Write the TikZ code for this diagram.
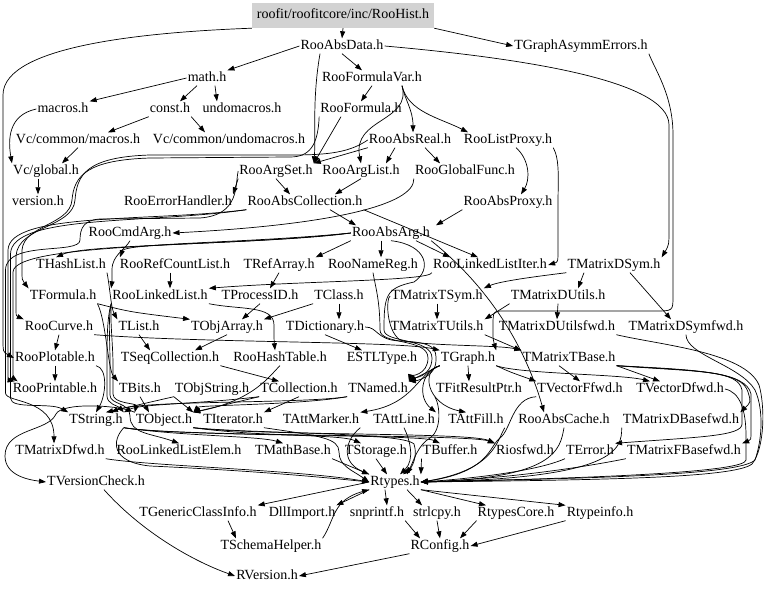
\documentclass[tikz,border=0pt]{standalone}
\usepackage{fontspec}
\setmainfont{Liberation Serif}
\usetikzlibrary{arrows.meta}
\begin{document}
\begin{tikzpicture}[x=1pt,y=-1pt,
  n/.style={inner sep=1pt, text height=10pt, text depth=3pt, font=\fontsize{14}{16}\selectfont},
  rootbox/.style={n, fill=gray!35, minimum width=182pt, minimum height=25pt},
  e/.style={line width=0.7pt, -{Triangle[length=7pt,width=5pt]}}]
\path[use as bounding box] (0,0) rectangle (768,593);
% ---- nodes ----
\node[rootbox] (hist) at (343,15.5) {roofit/roofitcore/inc/RooHist.h};
\node[n] (data) at (342,46) {RooAbsData.h};
\node[n] (tgae) at (581,46) {TGraphAsymmErrors.h};
\node[n] (math) at (207,78) {math.h};
\node[n] (fvar) at (372,78) {RooFormulaVar.h};
\node[n] (macros) at (63,109) {macros.h};
\node[n] (const) at (170,109) {const.h};
\node[n] (undom) at (242,109) {undomacros.h};
\node[n] (formula) at (361,109) {RooFormula.h};
\node[n] (vcmac) at (78,140) {Vc/common/macros.h};
\node[n] (vcundo) at (229,140) {Vc/common/undomacros.h};
\node[n] (absreal) at (410,140) {RooAbsReal.h};
\node[n] (listproxy) at (508,140) {RooListProxy.h};
\node[n] (vcglob) at (46,171) {Vc/global.h};
\node[n] (argset) at (276,171) {RooArgSet.h};
\node[n] (arglist) at (361,171) {RooArgList.h};
\node[n] (globfunc) at (465,171) {RooGlobalFunc.h};
\node[n] (version) at (38,202) {version.h};
\node[n] (errh) at (178,202) {RooErrorHandler.h};
\node[n] (abscoll) at (305,202) {RooAbsCollection.h};
\node[n] (absproxy) at (508,202) {RooAbsProxy.h};
\node[n] (cmdarg) at (130,233) {RooCmdArg.h};
\node[n] (absarg) at (391,233) {RooAbsArg.h};
\node[n] (hashlist) at (71,265) {THashList.h};
\node[n] (refcount) at (175,265) {RooRefCountList.h};
\node[n] (refarray) at (279,265) {TRefArray.h};
\node[n] (namereg) at (373,265) {RooNameReg.h};
\node[n] (llistiter) at (490,265) {RooLinkedListIter.h};
\node[n] (mdsym) at (614,265) {TMatrixDSym.h};
\node[n] (tformula) at (63,296) {TFormula.h};
\node[n] (llist) at (160,296) {RooLinkedList.h};
\node[n] (procid) at (260,296) {TProcessID.h};
\node[n] (tclass) at (339,296) {TClass.h};
\node[n] (mtsym) at (437,296) {TMatrixTSym.h};
\node[n] (mdutils) at (558,296) {TMatrixDUtils.h};
\node[n] (roocurve) at (59,327) {RooCurve.h};
\node[n] (tlist) at (139,327) {TList.h};
\node[n] (objarray) at (227,327) {TObjArray.h};
\node[n] (dict) at (325,327) {TDictionary.h};
\node[n] (mtutils) at (437,327) {TMatrixTUtils.h};
\node[n] (mdutilsfwd) at (557,327) {TMatrixDUtilsfwd.h};
\node[n] (mdsymfwd) at (686,327) {TMatrixDSymfwd.h};
\node[n] (plotable) at (55,358) {RooPlotable.h};
\node[n] (seqcoll) at (170,358) {TSeqCollection.h};
\node[n] (hashtable) at (280,358) {RooHashTable.h};
\node[n] (estl) at (382,358) {ESTLType.h};
\node[n] (tgraph) at (468,358) {TGraph.h};
\node[n] (mtbase) at (569,358) {TMatrixTBase.h};
\node[n] (printable) at (55,389) {RooPrintable.h};
\node[n] (tbits) at (140,389) {TBits.h};
\node[n] (objstring) at (212,389) {TObjString.h};
\node[n] (tcoll) at (299,389) {TCollection.h};
\node[n] (tnamed) at (378,389) {TNamed.h};
\node[n] (fitres) at (479,389) {TFitResultPtr.h};
\node[n] (vecf) at (580,389) {TVectorFfwd.h};
\node[n] (vecd) at (680,389) {TVectorDfwd.h};
\node[n] (tstring) at (96,420) {TString.h};
\node[n] (tobject) at (164,420) {TObject.h};
\node[n] (titer) at (233,420) {TIterator.h};
\node[n] (attmarker) at (321,420) {TAttMarker.h};
\node[n] (attline) at (404,420) {TAttLine.h};
\node[n] (attfill) at (476,420) {TAttFill.h};
\node[n] (abscache) at (564,420) {RooAbsCache.h};
\node[n] (mdbasefwd) at (681,420) {TMatrixDBasefwd.h};
\node[n] (mdfwd) at (60,451) {TMatrixDfwd.h};
\node[n] (llelem) at (179,451) {RooLinkedListElem.h};
\node[n] (mathbase) at (293,451) {TMathBase.h};
\node[n] (storage) at (376,451) {TStorage.h};
\node[n] (buffer) at (450,451) {TBuffer.h};
\node[n] (riosfwd) at (525,451) {Riosfwd.h};
\node[n] (terror) at (590,451) {TError.h};
\node[n] (mfbasefwd) at (684,451) {TMatrixFBasefwd.h};
\node[n] (vcheck) at (96,482) {TVersionCheck.h};
\node[n] (rtypes) at (395,482) {Rtypes.h};
\node[n] (gci) at (198,513) {TGenericClassInfo.h};
\node[n] (dll) at (302,513) {DllImport.h};
\node[n] (snprintf) at (377,513) {snprintf.h};
\node[n] (strlcpy) at (437,513) {strlcpy.h};
\node[n] (rtcore) at (516,513) {RtypesCore.h};
\node[n] (rtinfo) at (600,513) {Rtypeinfo.h};
\node[n] (schema) at (271,546) {TSchemaHelper.h};
\node[n] (rconfig) at (440,546) {RConfig.h};
\node[n] (rversion) at (267,576) {RVersion.h};
% ---- top ----
\draw[e] (hist.south) -- (data.north);
\draw[e] (hist.south east) -- (tgae.west);
\draw[e] (hist.south west) .. controls (150,32) and (3,45) .. (3,95) -- (3,338) .. controls (3,352) .. (plotable.west);
\draw[e] (data.west) -- (math.north east);
\draw[e] (data.south) -- ([xshift=-10]fvar.north);
\draw[e] ([xshift=-22]data.south) .. controls (312,100) and (316,135) .. (argset.north east);
\draw[e] (data.east) .. controls (520,58) and (669,80) .. (669,125) -- (669,228) .. controls (669,245) .. (mdsym.north east);
\draw[e] (tgae.south east) .. controls (655,70) and (673,95) .. (673,135) -- (673,296) .. controls (673,311) .. (655,311) -- (505,311) .. controls (493,311) .. (493,326) .. controls (493,340) .. (tgraph.north east);
\draw[e] (math.west) -- (macros.north east);
\draw[e] ([xshift=-10]math.south) -- ([xshift=10]const.north);
\draw[e] ([xshift=8]math.south) -- ([xshift=-25]undom.north);
\draw[e] (macros.west) .. controls (8,115) and (8,140) .. (vcglob.north west);
\draw[e] (const.south west) -- ([xshift=30]vcmac.north);
\draw[e] (const.south east) -- ([xshift=-24]vcundo.north);
\draw[e] (vcmac.south) -- ([xshift=16]vcglob.north);
\draw[e] ([xshift=-8]vcglob.south) -- (version.north);
% ---- RooFit upper ----
\draw[e] (fvar.south) -- (formula.north);
\draw[e] ([xshift=30]fvar.south) .. controls (405,100) and (413,110) .. ([xshift=3]absreal.north);
\draw[e] ([xshift=30]fvar.south) .. controls (408,112) and (440,118) .. ([xshift=-40]listproxy.north);
\draw[e] ([xshift=30]fvar.south) .. controls (412,122) and (352,118) .. (arglist.north);
\draw[e] ([xshift=-20]formula.south) -- (argset.north east);
\draw[e] (absreal.south west) -- (argset.north east);
\draw[e] ([xshift=-15]absreal.south) -- ([xshift=25]arglist.north);
\draw[e] ([xshift=15]absreal.south) -- ([xshift=-25]globfunc.north);
\draw[e] ([xshift=8]listproxy.south) .. controls (530,160) and (530,180) .. ([xshift=13]absproxy.north);
\draw[e] (listproxy.south east) .. controls (560,160) and (558,180) .. (558,205) -- (558,248) .. controls (558,262) .. (llistiter.east);
\draw[e] (arglist.south) -- ([xshift=30]abscoll.north);
\draw[e] (argset.south) -- ([xshift=-15]abscoll.north);
\draw[e] (argset.south west) -- (errh.north east);
\draw[e] (globfunc.south west) .. controls (415,205) and (330,225) .. (cmdarg.east);
\draw[e] ([xshift=25]abscoll.south) -- ([xshift=-35]absarg.north);
\draw[e] (absproxy.south west) -- ([xshift=45]absarg.north);
\draw[e] (abscoll.south east) -- ([xshift=-12]llistiter.north);
\draw[e] (absarg.south west) -- (refarray.north east);
\draw[e] ([xshift=-10]absarg.south) -- ([xshift=8]namereg.north);
\draw[e] ([xshift=25]absarg.south) -- ([xshift=-40]llistiter.north);
\draw[e] (absarg.south east) .. controls (505,300) and (532,370) .. ([xshift=-20]abscache.north);
\draw[e] (absarg.west) .. controls (250,243) and (125,243) .. ([xshift=-55]refcount.north);
\draw[e] (absarg.west) .. controls (250,245) and (85,244) .. ([xshift=-15]hashlist.north);
\draw[e] (llistiter.south west) .. controls (430,281) and (300,281) .. (llist.north east);
\draw[e] (refarray.south) -- ([xshift=10]procid.north);
\draw[e] ([xshift=-5]refcount.south) -- ([xshift=10]llist.north);
\draw[e] (cmdarg.south) .. controls (125,250) and (112,255) .. (112,270) .. controls (112,282) .. (llist.north west);
\draw[e] (hashlist.south east) .. controls (110,288) and (111,308) .. (tlist.north west);
\draw[e] (tlist.south) -- ([xshift=-20]seqcoll.north);
\draw[e] (objarray.south) -- ([xshift=25]seqcoll.north);
\draw[e] (procid.south) -- ([xshift=15]objarray.north);
\draw[e] (tclass.south) -- ([xshift=14]dict.north);
\draw[e] (tclass.south west) -- (objarray.north east);
\draw[e] (dict.south) -- ([xshift=-20]estl.north);
\draw[e] (tformula.south east) .. controls (106,320) and (108,370) .. (tbits.north west);
\draw[e] (tformula.south east) .. controls (130,312) .. (objarray.north west);
% ---- bundle into TNamed ----
\draw[e] (namereg.south) .. controls (375,285) and (380,300) .. (380,330) .. controls (380,345) and (428,338) .. (428,358) .. controls (428,375) and (410,377) .. (tnamed.north east);
\draw[e] (absarg.south) .. controls (428,245) and (432,270) .. (414,282) .. controls (386,288) and (384,295) .. (384,330) .. controls (384,343) and (432,338) .. (432,358) .. controls (432,377) and (412,379) .. (tnamed.north east);
\draw[e] (dict.east) .. controls (378,327) and (376,340) .. (400,341) .. controls (436,342) and (436,350) .. (436,360) .. controls (436,378) and (414,381) .. (tnamed.north east);
% ---- TObject / TString level ----
\draw[e] (llist.south west) .. controls (108,320) and (110,340) .. (110,362) -- (110,395) .. controls (110,405) and (130,402) .. (130,416) .. controls (130,434) and (150,433) .. (llelem.north);
\draw[e] (llist.south west) .. controls (110,322) and (113,345) .. (113,365) -- (113,394) .. controls (113,404) and (137,403) .. (tobject.north west);
\draw[e] (llist.south west) .. controls (107,318) and (107,340) .. (107,362) -- (107,396) .. controls (107,404) and (118,406) .. (tstring.north east);
\draw[e] (llist.south east) .. controls (240,310) and (274,305) .. (274,325) .. controls (274,340) .. ([xshift=-5]hashtable.north);
\draw[e] (hashtable.south) .. controls (270,375) and (255,400) .. (tobject.north east);
\draw[e] (objstring.south west) -- (tobject.north east);
\draw[e] (objstring.south west) -- ([xshift=10]tstring.north);
\draw[e] (tbits.south) -- ([xshift=-15]tobject.north);
\draw[e] (tcoll.south west) -- (tobject.north east);
\draw[e] (tcoll.south) -- (titer.north east);
\draw[e] (tcoll.south west) .. controls (200,404) and (140,404) .. (tstring.north east);
\draw[e] (seqcoll.south east) -- ([xshift=-20]tcoll.north);
\draw[e] (tnamed.south west) .. controls (300,405) and (200,405) .. (tobject.north east);
\draw[e] (tnamed.south west) .. controls (300,404) and (140,400) .. ([xshift=15]tstring.north);
\draw[e] (plotable.south east) .. controls (108,368) and (106,395) .. (tstring.north);
% ---- left bundle ----
\draw[e] (abscoll.south west) .. controls (150,222) and (9,212) .. (8,250) -- (8,372) .. controls (8,380) .. ([xshift=3]printable.north west);
\draw[e] (abscoll.south west) .. controls (150,224) and (11,214) .. (10.5,254) -- (10.5,398) .. controls (10.5,410) and (50,402) .. (tstring.north west);
\draw[e] (formula.south west) .. controls (318,145) and (310,157) .. (290,157) -- (150,158) .. controls (88,160) and (74,175) .. (72,200) .. controls (70,225) and (24,225) .. (22,250) -- (22,270) .. controls (22,280) .. (tformula.north west);
\draw[e] (absreal.west) .. controls (350,152) and (330,155) .. (292,155) -- (150,155) .. controls (86,157) and (77,175) .. (75,200) .. controls (73,228) and (18,226) .. (16,256) -- (16,306) .. controls (16,316) .. (roocurve.north west);
\draw[e] (argset.west) .. controls (235,185) and (240,215) .. (200,218) -- (100,219) .. controls (84,220) and (80,228) .. (80,240) .. controls (80,255) and (6,240) .. (5.5,270) -- (5.5,393) .. controls (5.5,403) and (54,398) .. ([xshift=-6]mdfwd.north);
\draw[e] (absarg.west) .. controls (250,247) and (14,241) .. (13,272) -- (13,372) .. controls (13,378) .. ([xshift=6]printable.north west);
\draw[e] (tobject.north west) .. controls (120,405) and (62,402) .. (56,414) .. controls (48,432) and (5,428) .. (5,456) .. controls (5,476) and (30,480) .. (vcheck.west);
\draw[e] ([xshift=8]vcheck.south) .. controls (140,530) and (190,560) .. (rversion.west);
% ---- into Rtypes ----
\draw[e] (mdfwd.south east) .. controls (150,466) and (300,470) .. (rtypes.west);
\draw[e] (tstring.south east) .. controls (112,440) and (110,462) .. (150,466) .. controls (260,471) and (330,478) .. (rtypes.west);
\draw[e] (tobject.south east) .. controls (260,434) and (402,432) .. (414,444) .. controls (418,456) and (412,468) .. ([xshift=8]rtypes.north);
\draw[e] (tobject.south east) .. controls (260,437) and (340,434) .. ([xshift=-15]storage.north);
\draw[e] (tobject.south east) .. controls (260,436) and (470,432) .. (riosfwd.north west);
\draw[e] (tstring.south east) .. controls (180,436) and (260,436) .. ([xshift=-10]mathbase.north);
\draw[e] (tstring.south east) .. controls (180,437) and (470,434) .. (riosfwd.north west);
\draw[e] (tstring.south east) .. controls (180,437) and (420,434) .. ([xshift=-10]buffer.north);
\draw[e] (titer.south east) .. controls (320,436) and (339,438) .. (339,452) .. controls (339,466) and (352,470) .. (rtypes.west);
\draw[e] (mathbase.south east) -- (rtypes.north west);
\draw[e] (storage.south) -- ([xshift=-8]rtypes.north);
\draw[e] (buffer.south west) -- (rtypes.north east);
\draw[e] (attfill.south east) .. controls (497,440) and (495,470) .. (rtypes.east);
\draw[e] (attline.south) .. controls (410,440) and (415,460) .. ([xshift=5]rtypes.north);
\draw[e] (attmarker.south east) .. controls (345,440) and (340,462) .. (rtypes.north west);
\draw[e] (abscache.south) .. controls (560,450) and (555,478) .. (rtypes.east);
\draw[e] (terror.south west) .. controls (540,470) and (480,478) .. (rtypes.east);
\draw[e] (mfbasefwd.south west) .. controls (560,472) and (480,480) .. (rtypes.east);
\draw[e] (mdbasefwd.south west) .. controls (622,450) and (615,478) .. (rtypes.east);
\draw[e] (mdsymfwd.south) .. controls (686,355) and (740,365) .. (755,390) .. controls (764,410) and (762,440) .. (755,460) .. controls (740,475) and (600,478) .. (rtypes.east);
\draw[e] (mdutilsfwd.south east) .. controls (660,345) and (745,352) .. (759,385) .. controls (765,405) and (765,448) .. (752,464) .. controls (735,478) and (600,480) .. (rtypes.east);
\draw[e] (vecd.east) .. controls (740,392) and (746,410) .. (746,436) -- (746,460) .. controls (746,472) and (600,478) .. (rtypes.east);
\draw[e] (vecf.south west) .. controls (512,398) and (511,430) .. (500,438) .. controls (489,446) and (490,472) .. (rtypes.east);
\draw[e] (fitres.south west) .. controls (440,405) and (442,430) .. (430,438) .. controls (418,445) and (414,460) .. ([xshift=12]rtypes.north);
% ---- out of Rtypes ----
\draw[e] (rtypes.west) -- (gci.north east);
\draw[e] (rtypes.south west) -- (dll.north east);
\draw[e] ([xshift=-10]rtypes.south) -- ([xshift=10]snprintf.north);
\draw[e] ([xshift=12]rtypes.south) -- ([xshift=-15]strlcpy.north);
\draw[e] (rtypes.south east) -- ([xshift=-30]rtcore.north);
\draw[e] (rtypes.south east) -- (rtinfo.north west);
\draw[e] ([xshift=30]gci.south) -- ([xshift=-35]schema.north);
\draw[e] (schema.north east) .. controls (335,520) and (332,500) .. (rtypes.south west);
\draw[e] (snprintf.south east) -- ([xshift=-20]rconfig.north);
\draw[e] (strlcpy.south) -- (rconfig.north);
\draw[e] (rtcore.south west) -- ([xshift=20]rconfig.north);
\draw[e] (rtinfo.south west) -- (rconfig.east);
\draw[e] (rconfig.south west) -- (rversion.east);
% ---- TGraph ----
\draw[e] (tgraph.south) -- ([xshift=-10]fitres.north);
\draw[e] (tgraph.south west) -- (tnamed.north east);
\draw[e] (tgraph.south west) .. controls (420,372) and (418,398) .. (attline.north east);
\draw[e] (tgraph.south west) .. controls (418,372) and (415,404) .. (attmarker.north east);
\draw[e] (tgraph.south west) .. controls (421,370) and (426,404) .. ([xshift=-10]attfill.north);
\draw[e] (tgraph.south east) .. controls (510,372) .. (vecf.north west);
\draw[e] (tgraph.south east) .. controls (520,374) and (620,374) .. ([xshift=-30]vecd.north);
\draw[e] (roocurve.south east) .. controls (200,343) and (400,341) .. (tgraph.north west);
\draw[e] (roocurve.south) -- (plotable.north);
\draw[e] (plotable.south) -- (printable.north);
% ---- matrices ----
\draw[e] (mdsym.south west) .. controls (540,276) and (500,281) .. (mtsym.north east);
\draw[e] ([xshift=-30]mdsym.south) -- ([xshift=20]mdutils.north);
\draw[e] ([xshift=16]mdsym.south) -- ([xshift=-15]mdsymfwd.north);
\draw[e] (mdutils.south) -- (mdutilsfwd.north);
\draw[e] (mdutils.south west) .. controls (500,310) .. (mtutils.north east);
\draw[e] (mtsym.south) -- (mtutils.north);
\draw[e] (mtsym.west) .. controls (386,298) and (386,330) .. (400,340) .. controls (420,346) and (500,345) .. (mtbase.north west);
\draw[e] (mtutils.south east) .. controls (500,342) .. (mtbase.north west);
\draw[e] (mtbase.south east) .. controls (700,372) and (738,370) .. (742,390) -- (742,424) .. controls (742,436) and (700,437) .. (terror.north east);
\draw[e] (mtbase.south east) .. controls (700,371) and (742,371) .. (748,392) .. controls (751,402) .. (mdbasefwd.north east);
\draw[e] (mtbase.south east) .. controls (700,370) and (746,372) .. (751,394) -- (751,430) .. controls (751,440) .. (mfbasefwd.north east);
\draw[e] ([xshift=-10]mtbase.south) -- (vecf.north);
\draw[e] (mtbase.south east) -- ([xshift=-20]vecd.north);
\end{tikzpicture}
\end{document}
